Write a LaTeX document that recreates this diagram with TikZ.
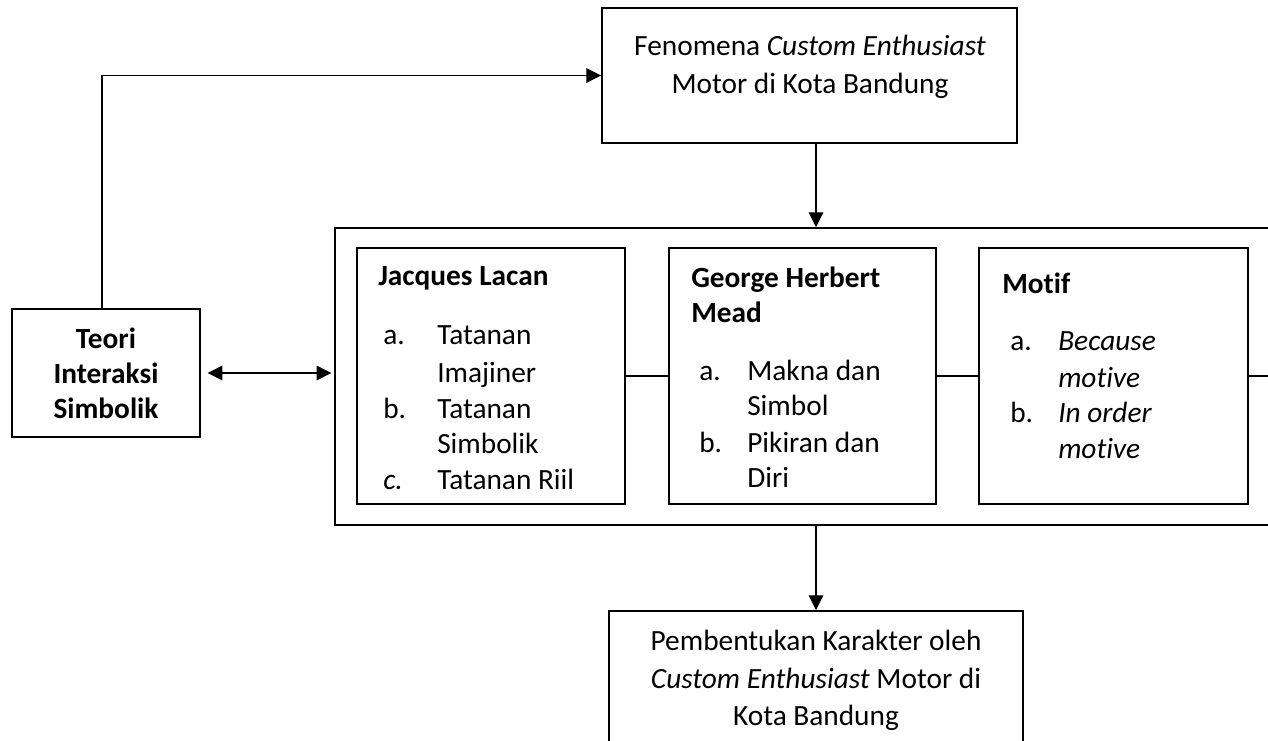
\documentclass[tikz,border=0pt]{standalone}
\usepackage{fontspec}
\setmainfont{Carlito}[Ligatures=NoCommon]
\usetikzlibrary{arrows.meta}
\tikzset{
  box/.style={draw=black, line width=1.5pt, rectangle, inner sep=0pt},
  conn/.style={draw=black, line width=0.8pt},
  arr/.style={conn, -{Triangle[length=11pt,width=11pt]}},
  dblarr/.style={conn, {Triangle[length=11pt,width=11pt]}-{Triangle[length=11pt,width=11pt]}},
  txt/.style={inner sep=0pt, font=\fontsize{22}{27}\selectfont},
}
\newcommand{\putline}[5]{\node[txt,anchor=#1] (#2) at (#3,#4) {#5};}
\begin{document}
\begin{tikzpicture}[x=0.75pt,y=-0.75pt]
\useasboundingbox (0,0) rectangle (1268,740);
\clip (0,0) rectangle (1268,740);

% boxes
\node[box, minimum width=415*0.75pt, minimum height=135*0.75pt] (top) at (809.5,75.5) {};
\node[box, minimum width=188*0.75pt, minimum height=128*0.75pt] (teori) at (106,373) {};
\node[box, minimum width=965*0.75pt, minimum height=297*0.75pt] (outer) at (817.5,376.5) {};
\node[box, minimum width=268*0.75pt, minimum height=256*0.75pt] (lacan) at (491,376) {};
\node[box, minimum width=267*0.75pt, minimum height=256*0.75pt] (mead) at (802.5,376) {};
\node[box, minimum width=269*0.75pt, minimum height=256*0.75pt] (motif) at (1113.5,376) {};
\node[box, minimum width=414*0.75pt, minimum height=160*0.75pt] (bottom) at (816,691) {};

% top box text
\putline{base}{top1}{810}{55}{Fenomena \textit{Custom Enthusiast}}
\putline{base}{top2}{810}{93}{Motor di Kota Bandung}

% teori text
\putline{base}{te1}{106}{348}{\textbf{Teori}}
\putline{base}{te2}{106}{383}{\textbf{Interaksi}}
\putline{base}{te3}{106}{418}{\textbf{Simbolik}}

% lacan
\putline{base west}{lh}{378}{285}{\textbf{Jacques Lacan}}
\putline{base west}{la}{383}{344}{a.}
\putline{base west}{lt1}{437}{344}{Tatanan}
\putline{base west}{lt2}{437}{382}{Imajiner}
\putline{base west}{lb}{383}{418}{b.}
\putline{base west}{lt3}{437}{418}{Tatanan}
\putline{base west}{lt4}{437}{453}{Simbolik}
\putline{base west}{lc}{383}{489}{\textit{c.}}
\putline{base west}{lt5}{437}{489}{Tatanan Riil}

% mead
\putline{base west}{mh1}{691}{287}{\textbf{George Herbert}}
\putline{base west}{mh2}{691}{322}{\textbf{Mead}}
\putline{base west}{ma}{699}{380}{a.}
\putline{base west}{mt1}{747}{380}{Makna dan}
\putline{base west}{mt2}{747}{415}{Simbol}
\putline{base west}{mb}{699}{452}{b.}
\putline{base west}{mt3}{747}{452}{Pikiran dan}
\putline{base west}{mt4}{747}{487}{Diri}

% motif
\putline{base west}{oh}{1002}{293}{\textbf{Motif}}
\putline{base west}{oa}{1010}{350}{a.}
\putline{base west}{ot1}{1058}{350}{\textit{Because}}
\putline{base west}{ot2}{1058}{387}{\textit{motive}}
\putline{base west}{ob}{1010}{422}{b.}
\putline{base west}{ot3}{1058}{422}{\textit{In order}}
\putline{base west}{ot4}{1058}{458}{\textit{motive}}

% bottom text
\putline{base}{b1}{816}{650}{Pembentukan Karakter oleh}
\putline{base}{b2}{816}{688}{\textit{Custom Enthusiast} Motor di}
\putline{base}{b3}{816}{725}{Kota Bandung}

% connectors
\coordinate (tcorner) at (102,74);
\draw[arr] (teori.north -| tcorner) |- (top.west);
\draw[dblarr, shorten <=5pt, shorten >=2pt] (teori.east) -- (outer.west |- teori.east);
\draw[arr] (top.south -| bottom.north) -- (outer.north -| bottom.north);
\draw[arr] (outer.south -| bottom.north) -- (bottom.north);
\draw[conn] (lacan.east) -- (mead.west);
\draw[conn] (mead.east) -- (motif.west);
\draw[conn] (motif.east) -- (outer.east |- motif.east);
\end{tikzpicture}
\end{document}
